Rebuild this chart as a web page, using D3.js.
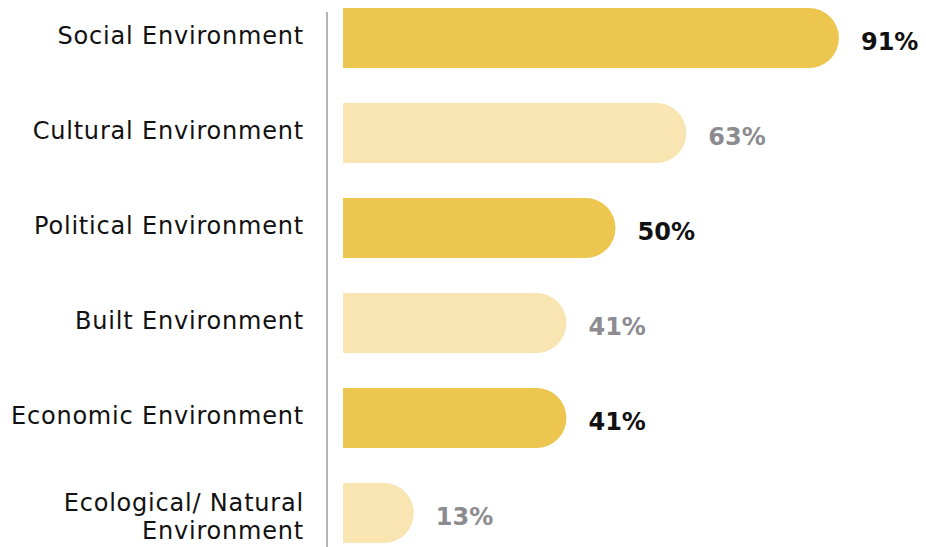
<!DOCTYPE html>
<html>
<head>
<meta charset="utf-8">
<script src="https://cdn.jsdelivr.net/npm/d3@7"></script>
<style>
  html, body { margin: 0; padding: 0; background: #fff; }
  svg { display: block; }
</style>
</head>
<body>
<svg id="chart" width="926" height="547"></svg>
<script>
// Share of responses by environment type
const categories = [
  "Social Environment",
  "Cultural Environment",
  "Political Environment",
  "Built Environment",
  "Economic Environment",
  "Ecological/ Natural Environment"
];
const values = [91, 63, 50, 41, 41, 13];
const emphasis = [true, false, true, false, true, false];

const W = 926, H = 547;
const svg = d3.select("#chart");

const x = d3.scaleLinear().domain([0, 100]).range([343, 888]);
const y = d3.scaleBand()
  .domain(categories)
  .range([8, 543])
  .paddingInner(35 / 95)
  .paddingOuter(0);

const labelFont = "'DejaVu Sans', 'Open Sans', sans-serif";
const colDark = "#ECC64F";
const colLight = "#F8E5B2";

// Vertical baseline
svg.append("line")
  .attr("x1", 327).attr("x2", 327)
  .attr("y1", 12).attr("y2", H)
  .attr("stroke", "#b4b4b8")
  .attr("stroke-width", 2);

// Bars with a half-round right end
function barPath(d, i) {
  const x0 = x(0), x1 = x(d), y0 = y(categories[i]), h = y.bandwidth(), r = h / 2;
  return `M${x0},${y0}H${x1 - r}A${r},${r} 0 0 1 ${x1 - r},${y0 + h}H${x0}Z`;
}

svg.append("g")
  .selectAll("path")
  .data(values)
  .join("path")
  .attr("d", barPath)
  .attr("fill", (d, i) => emphasis[i] ? colDark : colLight);

// Value labels
svg.append("g")
  .selectAll("text")
  .data(values)
  .join("text")
  .attr("x", d => x(d) + 22)
  .attr("y", (d, i) => y(categories[i]) + y.bandwidth() / 2 + 12)
  .attr("font-family", labelFont)
  .attr("font-weight", 700)
  .attr("font-size", 24)
  .attr("fill", (d, i) => emphasis[i] ? "#111111" : "#8c8c90")
  .text(d => d + "%");

// Category labels, wrapped when too long
const maxLabel = 310;
const catG = svg.append("g")
  .attr("font-family", labelFont)
  .attr("font-size", 24)
  .attr("letter-spacing", 0.8)
  .attr("fill", "#111111")
  .attr("text-anchor", "end");

categories.forEach((c, i) => {
  const t = catG.append("text").attr("x", 304);
  const words = c.split(" ");
  let lines = [];
  let line = [];
  const probe = t.append("tspan");
  words.forEach(w => {
    line.push(w);
    probe.text(line.join(" "));
    if (probe.node().getComputedTextLength() > maxLabel && line.length > 1) {
      line.pop();
      lines.push(line.join(" "));
      line = [w];
    }
  });
  lines.push(line.join(" "));
  probe.remove();
  const lh = 28;
  const n = lines.length;
  const cy = y(c) + y.bandwidth() / 2;
  const first = cy + 6 - (n - 1) * lh / 2 + (n - 1) * 6;
  lines.forEach((l, k) => {
    t.append("tspan").attr("x", 304).attr("y", first + k * lh).text(l);
  });
});
</script>
</body>
</html>
